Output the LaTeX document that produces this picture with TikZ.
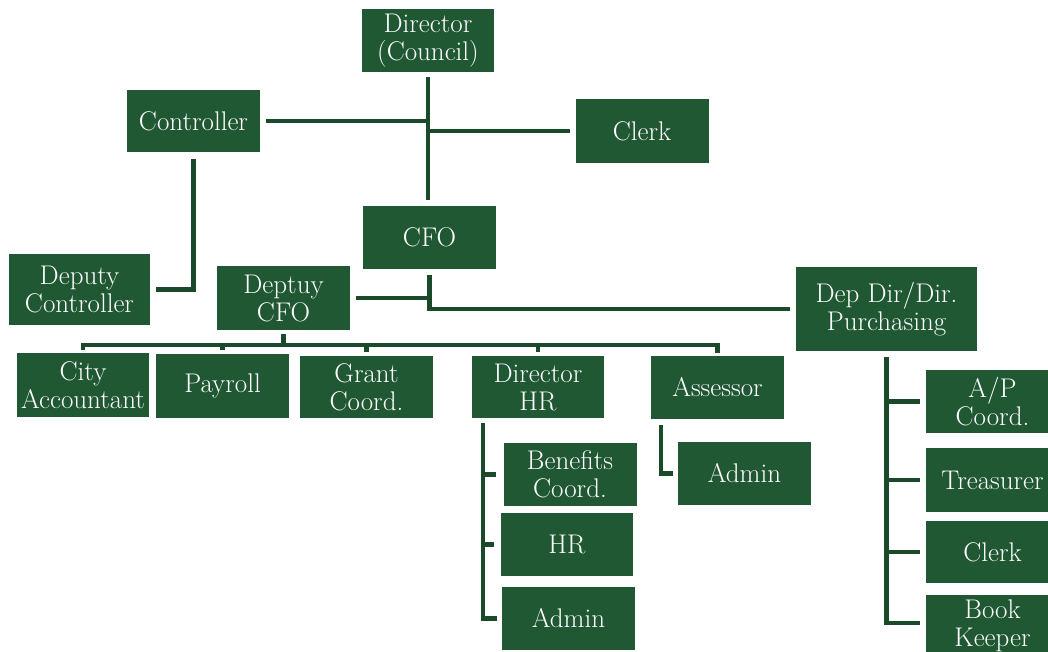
\documentclass[tikz,border=0pt]{standalone}
\usepackage{fontspec}
\usepackage{xcolor}
\usepackage{tikz}
\usetikzlibrary{calc}
\definecolor{boxgreen}{RGB}{33,88,52}
\definecolor{linegreen}{RGB}{27,74,42}
\tikzset{
    unit/.style={fill=boxgreen, text=white, align=center, inner sep=0pt,
        minimum width=133pt, minimum height=63pt, font=\fontsize{27}{28}\selectfont},
    link/.style={draw=linegreen, line width=4.5pt}
}

\begin{document}
\begin{tikzpicture}[x=1pt, y=-1pt]
    \useasboundingbox (0,0) rectangle (1048,652);
    \coordinate (bus) at (0,345);
    \node[unit, minimum width=132pt] (dirc) at (428,40.5) {Director\\(Council)};
    \node[unit, minimum height=62pt] (ctrl) at (193.5,121) {Controller};
    \node[unit, minimum height=64pt] (clerka) at (642,131) {Clerk};
    \node[unit] (cfo) at (429.5,237.5) {CFO};
    \node[unit, minimum width=141pt, minimum height=71pt] (depctrl) at (79.5,289.5) {Deputy\\Controller};
    \node[unit, minimum height=64pt] (depcfo) at (283.5,298) {Deptuy\\CFO};
    \node[unit, minimum width=181pt, minimum height=84pt] (purch) at (886.5,309) {Dep Dir/Dir.\\Purchasing};
    \node[unit, minimum width=132pt, minimum height=64pt] (cityacc) at (83,385) {City\\Accountant};
    \node[unit, minimum height=64pt] (payroll) at (222.5,386) {Payroll};
    \node[unit, minimum height=62pt] (grant) at (366.5,387) {Grant\\Coord.};
    \node[unit, minimum width=132pt, minimum height=62pt] (dirhr) at (538,387) {Director\\HR};
    \node[unit] (assessor) at (717.5,387.5) {Assessor};
    \node[unit] (benefits) at (570,474.5) {Benefits\\Coord.};
    \node[unit, minimum width=132pt] (hr) at (567,544.5) {HR};
    \node[unit] (adminhr) at (568.5,618.5) {Admin};
    \node[unit] (adminas) at (744.5,473.5) {Admin};
    \node[unit] (apc) at (992.5,401.5) {A/P\\Coord.};
    \node[unit, minimum height=64pt] (treas) at (992.5,480) {Treasurer};
    \node[unit, minimum height=62pt] (clerkb) at (992.5,552) {Clerk};
    \node[unit] (bookk) at (992.5,626) {Book\\Keeper};
    \draw[link, shorten <=5pt, shorten >=6pt] (dirc.south) -- (dirc.south |- cfo.north);
    \draw[link, shorten <=6pt] (ctrl.east) -- (ctrl.east -| dirc.south);
    \draw[link, shorten >=5pt] (clerka.west -| dirc.south) -- (clerka.west);
    \draw[link, shorten <=7pt, shorten >=6pt] (ctrl.south) |- (depctrl.east);
    \draw[link, shorten <=6pt, shorten >=6pt] (cfo.south) |- (purch.west);
    \draw[link, shorten <=6pt] (depcfo.east) -- (depcfo.east -| cfo.south);
    \draw[link] ([yshift=3pt]cityacc.north) -- (cityacc.north |- bus) -- (assessor.north |- bus) -- ([yshift=3pt]assessor.north);
    \draw[link, shorten <=4pt] (depcfo.south) -- (depcfo.south |- bus);
    \foreach \n in {payroll,grant,dirhr}
        \draw[link] (\n.north |- bus) -- ([yshift=4pt]\n.north);
    \coordinate (hrbar) at ([xshift=11pt]dirhr.south west);
    \draw[link, shorten <=5pt, shorten >=5pt] (hrbar) |- (adminhr.west);
    \foreach \n in {benefits,hr}
        \draw[link, shorten >=7pt] (hrbar |- \n.west) -- (\n.west);
    \draw[link, shorten <=6pt, shorten >=5pt] ([xshift=10pt]assessor.south west) |- (adminas.west);
    \draw[link, shorten <=6pt, shorten >=6pt] (purch.south) |- ([yshift=3pt]bookk.west);
    \foreach \n in {apc,treas,clerkb}
        \draw[link, shorten >=6pt] (purch.south |- \n.west) -- (\n.west);
\end{tikzpicture}
\end{document}
